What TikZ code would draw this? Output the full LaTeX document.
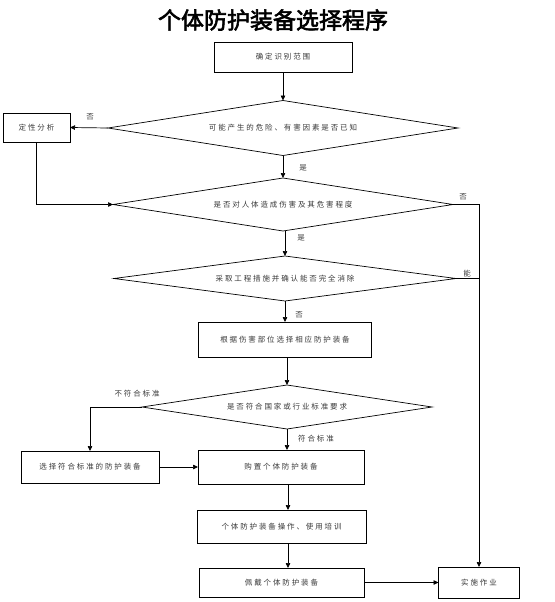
\documentclass[tikz,border=0pt]{standalone}
\usepackage{fontspec}
\setmainfont{Noto Sans CJK SC}
\newfontfamily\bodyfont[LetterSpace=25,Color=3A3A3A]{Noto Sans CJK SC}
\newfontfamily\titlefont[FakeBold=2.5]{Noto Sans CJK SC}
\usetikzlibrary{shapes.geometric,arrows.meta}
\tikzset{
  txt/.style={font=\bodyfont\fontsize{7.5}{9}\selectfont},
  stepbox/.style={draw, line width=0.7pt, inner sep=0pt, outer sep=0pt, txt},
  dia/.style={diamond, draw, line width=0.7pt, inner sep=0pt, outer sep=0pt, aspect=6, txt},
  arr/.style={-{Triangle[length=5pt,width=4.5pt]}, line width=0.7pt},
  ln/.style={line width=0.7pt},
  lbl/.style={inner sep=0pt, txt}
}
\begin{document}
\begin{tikzpicture}[x=1pt,y=-1pt]
\useasboundingbox (0,0) rectangle (554,602);
% title
\node[font=\titlefont\fontsize{23}{27}\selectfont] (title) at (273,20) {个体防护装备选择程序};
% boxes
\node[stepbox, minimum width=138, minimum height=30] (b1) at (283,57) {确定识别范围};
\node[dia, minimum width=350, minimum height=55] (d1) at (283,128) {可能产生的危险、有害因素是否已知};
\node[stepbox, minimum width=67, minimum height=29] (dx) at (36.5,127.5) {定性分析};
\node[dia, minimum width=340, minimum height=53] (d2) at (283,204.5) {是否对人体造成伤害及其危害程度};
\node[dia, minimum width=342, minimum height=45] (d3) at (285,278.5) {采取工程措施并确认能否完全消除};
\node[stepbox, minimum width=173, minimum height=35] (b2) at (285,339.5) {根据伤害部位选择相应防护装备};
\node[dia, minimum width=290, minimum height=44] (d4) at (287,407) {是否符合国家或行业标准要求};
\node[stepbox, minimum width=138, minimum height=32] (bs) at (90,467) {选择符合标准的防护装备};
\node[stepbox, minimum width=166, minimum height=34] (b3) at (281,467) {购置个体防护装备};
\node[stepbox, minimum width=169, minimum height=33] (b4) at (281.5,526.5) {个体防护装备操作、使用培训};
\node[stepbox, minimum width=165, minimum height=29] (b5) at (281.5,582.5) {佩戴个体防护装备};
\node[stepbox, minimum width=81, minimum height=31] (zz) at (479,582.5) {实施作业};
% connectors
\draw[arr] (b1.south) -- (b1.south |- d1.north);
\draw[arr] (d1.west) -- (dx.east);
\draw[arr] (d1.south) -- (d1.south |- d2.north);
\draw[arr] (dx.south) |- (d2.west);
\draw[arr] (d2.east) -| (zz.north);
\draw[ln] (d3.east) -- (d3.east -| zz.north);
\draw[arr] (d2.south -| d3.north) -- (d3.north);
\draw[arr] (d3.south) -- (d3.south |- b2.north);
\draw[arr] (b2.south -| d4.north) -- (d4.north);
\draw[arr] (d4.west) -| (bs.north);
\draw[arr] (d4.south) -- (d4.south |- b3.north);
\draw[arr] (bs.east) -- (bs.east -| b3.west);
\draw[arr] ([xshift=7pt]b3.south) -- ([xshift=7pt]b3.south |- b4.north);
\draw[arr] ([xshift=6.5pt]b4.south) -- ([xshift=6.5pt]b4.south |- b5.north);
\draw[arr] (b5.east) -- (zz.west);
% labels
\node[lbl] (l1) at (90,117) {否};
\node[lbl] (l2) at (303,168) {是};
\node[lbl] (l3) at (463,197) {否};
\node[lbl] (l4) at (301,238) {是};
\node[lbl] (l5) at (467,274) {能};
\node[lbl] (l6) at (299,315) {否};
\node[lbl] (l7) at (137,394) {不符合标准};
\node[lbl] (l8) at (316,439) {符合标准};
\end{tikzpicture}
\end{document}
